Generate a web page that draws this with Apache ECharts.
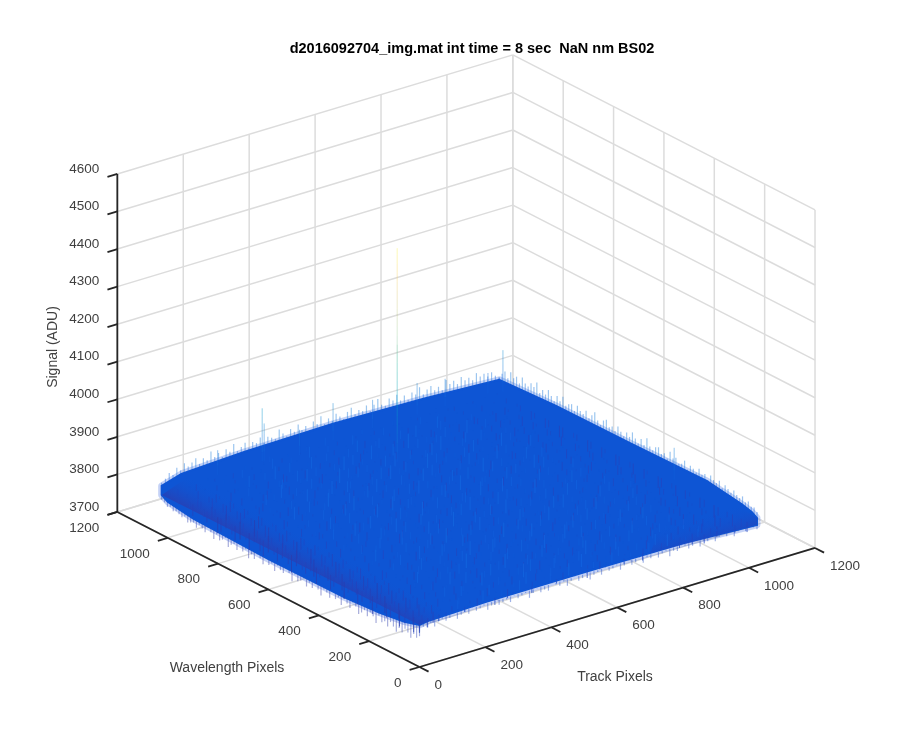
<!DOCTYPE html>
<html><head><meta charset="utf-8">
<script src="https://cdn.jsdelivr.net/npm/echarts@6/dist/echarts.min.js"></script>
<style>html,body{margin:0;background:#fff}#c{width:900px;height:750px}</style></head>
<body><div id="c"></div>
<script>
const titleText = 'd2016092704_img.mat int time = 8 sec  NaN nm BS02';
const trackTicks = [0,200,400,600,800,1000,1200];
const wavelengthTicks = [0,200,400,600,800,1000,1200];
const signalTicks = [3700,3800,3900,4000,4100,4200,4300,4400,4500,4600];
const dataExtent = 1024;
const colorValues = [3750,3785,3805,3820,3850,3900,3980,4080,4180,4260,4330,4400];
const colorStops = ['#30369f','#2444bd','#1a4cc8','#0e55d4','#1366e0','#1481d6','#06a4ca','#2eb7a4','#87bf77','#d1bb59','#fec832','#f9fb0e'];
const surfaceOutline = [[0,1024,3830],[60,1024,3846],[250,1024,3854],[520,1024,3858],[800,1024,3852],[1024,1024,3842],[1024,800,3850],[1024,500,3852],[1024,200,3856],[1024,60,3842],[1024,20,3835],[1024,0,3826],[1024,0,3808],[800,0,3818],[500,0,3820],[200,0,3820],[30,0,3816],[0,0,3812],[0,60,3800],[0,160,3790],[0,300,3783],[0,600,3781],[0,900,3786],[0,1000,3796],[0,1024,3806]];
const spikes = [[561,823,4384],[305,1024,3956],[311,1024,3914],[520,1024,3913],[775,1024,3899],[1024,1009,3926],[990,1024,3869],[1024,329,3900],[400,1000,3882],[640,1024,3890],[860,1024,3888],[170,1024,3880]];
const edgeBackLeft = [3838,3846,3858,3850,3866,3856,3872,3860,3868,3876,3858,3870,3862,3882,3864,3872,3858,3876,3866,3884,3862,3870,3878,3860,3874,3868,3880,3862,3876,3870,3864,3886,3872,3862,3878,3868,3884,3866,3874,3860,3880,3870,3888,3864,3876,3866,3882,3872,3862,3878,3886,3866,3874,3868,3880,3862,3876,3888,3870,3864,3880,3872,3884,3866,3876,3862,3878,3870,3886,3864,3874,3880,3866,3872,3860,3884,3870,3876,3864,3880,3868,3872,3862,3878,3866,3870,3860,3868,3856,3848];
const edgeBackRight = [3848,3862,3872,3858,3878,3866,3874,3860,3880,3868,3864,3876,3870,3886,3862,3874,3866,3882,3870,3860,3878,3868,3884,3864,3872,3876,3862,3880,3870,3866,3878,3862,3874,3886,3868,3860,3876,3882,3866,3872,3864,3880,3870,3862,3876,3868,3884,3872,3862,3878,3866,3888,3870,3864,3876,3880,3866,3872,3862,3884,3870,3876,3864,3868,3880,3860,3874,3870,3864,3878,3866,3872,3860,3876,3868,3864,3874,3858,3870,3864,3858,3868,3860,3856,3864,3852,3858,3848,3850,3842];
const edgeFrontRight = [3796,3804,3810,3800,3812,3806,3796,3810,3802,3814,3806,3798,3812,3804,3808,3796,3816,3804,3800,3810,3814,3802,3806,3794,3812,3808,3800,3816,3804,3810,3798,3814,3806,3802,3816,3806,3798,3812,3808,3804,3816,3800,3810,3806,3796,3814,3806,3802,3816,3808,3798,3812,3804,3810,3816,3800,3806,3802,3814,3806,3796,3812,3808,3804,3816,3800,3810,3806,3802,3814,3806,3798,3812,3808,3804,3816,3802,3810,3806,3798,3814,3806,3802,3810,3806,3796,3808,3800,3804,3794];
const edgeFrontLeft = [3782,3774,3780,3766,3776,3782,3768,3776,3762,3772,3780,3764,3774,3768,3782,3758,3772,3778,3764,3776,3766,3758,3774,3780,3762,3770,3778,3758,3774,3766,3782,3762,3772,3776,3756,3768,3780,3764,3774,3760,3778,3768,3762,3776,3754,3772,3780,3764,3768,3776,3758,3774,3766,3782,3760,3772,3778,3762,3770,3756,3776,3766,3780,3762,3774,3768,3758,3778,3770,3764,3776,3760,3774,3782,3766,3772,3778,3766,3776,3772,3768,3780,3774,3778,3782,3778,3786,3782,3790,3794];
const matrixTrack = [12,37,71,93,128,149,183,205,241,262,297,316,353,372,409,428,465,484,521,540,577,596,633,652,689,708,745,764,801,820,857,876,913,932,969,1006];
const matrixWavelength = [16,39,74,95,131,147,186,203,244,261,299,315,356,369,412,425,468,481,524,537,580,593,636,649,692,705,748,761,804,817,860,873,916,929,972,1008];
const signalMatrix = [
[3782,3790,3798,3806,3838,3802,3826,3844,3796,3830,3810,3842,3798,3824,3836,3804,3848,3812,3794,3832,3820,3842,3802,3828,3796,3838,3814,3846,3800,3826,3836,3792,3820,3810,3796,3788],
[3776,3794,3786,3812,3800,3832,3808,3796,3842,3818,3792,3828,3846,3804,3816,3838,3798,3830,3850,3806,3794,3824,3840,3812,3834,3800,3844,3796,3822,3806,3788,3830,3798,3786,3812,3794],
[3788,3778,3800,3792,3824,3810,3842,3820,3802,3794,3836,3806,3824,3852,3796,3822,3842,3808,3816,3840,3830,3798,3812,3848,3804,3826,3792,3836,3818,3796,3842,3804,3790,3816,3792,3784],
[3772,3796,3784,3804,3794,3840,3798,3830,3812,3850,3800,3822,3794,3834,3846,3804,3814,3838,3796,3826,3852,3808,3832,3794,3820,3844,3810,3800,3838,3828,3794,3818,3806,3796,3786,3800],
[3784,3774,3792,3786,3816,3802,3826,3794,3844,3808,3832,3846,3814,3798,3824,3840,3792,3818,3834,3802,3812,3846,3796,3836,3816,3802,3848,3824,3792,3810,3838,3800,3820,3788,3808,3792],
[3778,3792,3776,3808,3796,3830,3812,3848,3800,3824,3796,3816,3838,3852,3806,3790,3830,3846,3808,3824,3794,3834,3820,3804,3842,3796,3826,3814,3840,3800,3822,3796,3786,3812,3798,3782],
[3790,3770,3798,3788,3826,3804,3792,3836,3818,3842,3806,3790,3828,3810,3844,3826,3802,3796,3850,3816,3838,3800,3844,3826,3792,3812,3836,3806,3830,3846,3794,3816,3804,3792,3810,3796],
[3768,3788,3780,3802,3790,3844,3820,3800,3834,3796,3854,3824,3804,3838,3794,3816,3846,3830,3806,3792,3828,3852,3810,3796,3840,3822,3802,3848,3798,3818,3836,3808,3794,3824,3800,3788],
[3786,3776,3794,3784,3812,3798,3836,3816,3792,3826,3810,3842,3796,3822,3848,3804,3826,3812,3840,3798,3818,3806,3836,3848,3814,3794,3830,3820,3804,3842,3796,3826,3812,3798,3788,3804],
[3774,3790,3772,3804,3822,3810,3794,3846,3804,3838,3794,3818,3852,3800,3830,3842,3792,3824,3808,3850,3796,3828,3816,3800,3834,3846,3806,3790,3824,3814,3838,3802,3820,3794,3810,3792],
[3792,3780,3788,3796,3800,3834,3816,3802,3828,3814,3846,3798,3826,3808,3796,3836,3818,3854,3800,3832,3812,3844,3792,3822,3806,3838,3818,3848,3796,3830,3804,3842,3790,3816,3800,3786],
[3770,3784,3778,3810,3790,3818,3842,3796,3850,3804,3822,3836,3794,3846,3816,3804,3832,3796,3826,3842,3806,3818,3852,3800,3828,3794,3840,3812,3834,3802,3822,3796,3814,3806,3794,3802],
[3788,3772,3796,3786,3828,3806,3794,3830,3812,3792,3838,3810,3854,3822,3800,3842,3814,3828,3794,3808,3846,3796,3824,3836,3810,3850,3802,3826,3792,3844,3816,3804,3832,3792,3812,3790],
[3776,3792,3782,3800,3794,3846,3826,3808,3840,3824,3798,3846,3804,3816,3836,3794,3850,3806,3834,3820,3798,3840,3810,3794,3846,3816,3830,3804,3822,3798,3840,3812,3800,3822,3798,3784],
[3794,3778,3790,3808,3816,3798,3834,3792,3822,3850,3808,3828,3792,3842,3812,3826,3800,3844,3816,3792,3852,3826,3804,3838,3820,3796,3812,3846,3808,3828,3794,3836,3816,3804,3792,3806],
[3772,3786,3774,3792,3804,3838,3812,3844,3796,3816,3834,3802,3848,3824,3796,3854,3818,3792,3832,3844,3810,3800,3836,3814,3828,3842,3798,3822,3840,3802,3818,3808,3794,3826,3802,3790],
[3784,3770,3796,3782,3830,3808,3796,3826,3846,3806,3790,3842,3818,3800,3836,3810,3828,3846,3804,3822,3794,3848,3822,3796,3806,3852,3816,3794,3830,3846,3806,3824,3800,3812,3796,3786],
[3790,3780,3784,3802,3792,3822,3840,3800,3816,3832,3852,3796,3824,3844,3808,3790,3838,3814,3850,3798,3832,3812,3842,3806,3826,3794,3836,3818,3802,3812,3838,3796,3818,3804,3790,3800],
[3768,3792,3776,3806,3818,3800,3828,3848,3792,3820,3806,3836,3802,3816,3852,3828,3804,3794,3824,3842,3810,3796,3826,3850,3812,3834,3800,3846,3822,3796,3828,3810,3794,3822,3806,3792],
[3786,3774,3798,3788,3796,3842,3810,3794,3836,3848,3814,3796,3846,3830,3792,3812,3844,3820,3800,3836,3818,3852,3798,3816,3840,3804,3824,3792,3836,3816,3800,3840,3806,3792,3812,3786],
[3778,3788,3770,3800,3826,3804,3834,3816,3802,3790,3826,3850,3808,3798,3840,3822,3806,3832,3848,3794,3826,3808,3838,3796,3820,3846,3810,3828,3804,3844,3814,3792,3820,3802,3794,3804],
[3792,3776,3790,3784,3810,3796,3846,3824,3842,3810,3798,3834,3820,3852,3806,3836,3796,3814,3842,3804,3854,3796,3816,3832,3804,3792,3840,3816,3850,3798,3826,3808,3796,3814,3798,3788],
[3774,3794,3780,3808,3794,3832,3802,3790,3820,3846,3816,3804,3794,3828,3846,3800,3824,3850,3796,3820,3836,3812,3846,3800,3826,3842,3806,3794,3830,3818,3840,3802,3816,3790,3808,3796],
[3782,3772,3792,3786,3820,3806,3816,3840,3796,3828,3854,3810,3838,3806,3792,3818,3842,3804,3834,3810,3794,3844,3822,3808,3852,3796,3836,3820,3802,3846,3794,3824,3806,3820,3796,3784],
[3770,3786,3778,3798,3802,3848,3826,3808,3834,3800,3792,3842,3820,3846,3812,3834,3798,3826,3808,3848,3826,3796,3804,3838,3816,3828,3792,3850,3812,3800,3832,3814,3792,3804,3812,3798],
[3794,3780,3784,3806,3790,3818,3798,3844,3812,3852,3822,3796,3806,3828,3850,3794,3816,3840,3792,3814,3844,3830,3810,3796,3846,3806,3826,3816,3838,3794,3818,3844,3800,3816,3790,3802],
[3776,3790,3772,3794,3812,3800,3836,3794,3826,3806,3838,3818,3844,3794,3822,3836,3804,3852,3826,3800,3806,3854,3792,3832,3812,3840,3798,3828,3806,3850,3804,3812,3826,3796,3804,3788],
[3788,3768,3796,3782,3828,3810,3792,3820,3848,3798,3816,3850,3802,3834,3810,3796,3846,3812,3830,3842,3796,3818,3840,3804,3826,3794,3846,3810,3824,3798,3836,3806,3790,3818,3798,3784],
[3780,3792,3786,3804,3796,3842,3816,3804,3836,3824,3794,3830,3812,3854,3826,3842,3800,3820,3794,3850,3816,3806,3834,3848,3800,3820,3836,3792,3844,3812,3804,3830,3810,3798,3808,3796],
[3772,3778,3794,3790,3806,3794,3830,3850,3802,3812,3842,3806,3824,3796,3840,3816,3834,3806,3844,3824,3792,3838,3810,3826,3852,3802,3818,3842,3800,3826,3796,3818,3792,3812,3796,3790],
[3786,3796,3776,3802,3824,3808,3798,3822,3840,3794,3828,3848,3800,3818,3806,3852,3796,3830,3812,3798,3846,3820,3802,3840,3794,3836,3814,3804,3850,3816,3838,3800,3822,3804,3790,3800],
[3796,3782,3792,3788,3796,3836,3814,3792,3832,3808,3844,3816,3838,3790,3832,3814,3842,3800,3852,3826,3808,3796,3854,3816,3830,3806,3842,3822,3796,3828,3806,3812,3796,3820,3804,3792],
[3784,3798,3788,3808,3792,3820,3846,3806,3796,3850,3800,3824,3794,3846,3822,3804,3826,3838,3794,3814,3842,3804,3824,3796,3846,3812,3800,3838,3818,3794,3832,3800,3814,3792,3808,3800],
[3802,3792,3800,3794,3816,3804,3826,3812,3834,3816,3794,3840,3810,3826,3800,3836,3796,3820,3846,3804,3830,3816,3800,3838,3812,3828,3796,3846,3806,3824,3812,3796,3820,3806,3796,3808],
[3796,3808,3794,3812,3802,3826,3806,3836,3800,3822,3842,3804,3830,3816,3844,3810,3832,3802,3818,3840,3796,3824,3836,3808,3820,3800,3834,3814,3828,3802,3816,3806,3824,3800,3812,3802],
[3806,3800,3812,3798,3820,3808,3814,3802,3826,3810,3818,3830,3804,3822,3812,3826,3816,3836,3806,3820,3810,3828,3804,3818,3826,3812,3820,3808,3816,3824,3810,3804,3814,3808,3816,3812]
];
const planeSignal = 3815;

function project(t,w,z){return [419.5+0.3296*t-0.2518*w, 667-0.0992*t-0.1292*w-(z-3700)*0.3756];}
function hexRgb(h){return [1,3,5].map(i=>parseInt(h.substr(i,2),16));}
function signalColor(z){
  if(z<=colorValues[0])return colorStops[0];
  for(let i=1;i<colorValues.length;i++){
    if(z<=colorValues[i]){
      const f=(z-colorValues[i-1])/(colorValues[i]-colorValues[i-1]);
      const a=hexRgb(colorStops[i-1]),b=hexRgb(colorStops[i]);
      return 'rgb('+a.map((v,k)=>Math.round(v+(b[k]-v)*f)).join(',')+')';
    }
  }
  return colorStops[colorStops.length-1];
}
function seg(api,a,b,stroke,lineWidth,opacity){
  const p=api.coord(project(a[0],a[1],a[2])),q=api.coord(project(b[0],b[1],b[2]));
  return {type:'line',shape:{x1:p[0],y1:p[1],x2:q[0],y2:q[1]},style:{stroke,lineWidth,opacity,fill:null}};
}
function layer(items,render,z){
  return {type:'custom',coordinateSystem:'cartesian2d',silent:true,animation:false,clip:false,progressive:0,z,
    data:items.map((d,i)=>[i]),encode:{x:0,y:0},
    renderItem:(params,api)=>render(items[params.dataIndex],api)};
}
const T0=trackTicks[0],T1=trackTicks[trackTicks.length-1],W0=wavelengthTicks[0],W1=wavelengthTicks[wavelengthTicks.length-1],Z0=signalTicks[0],Z1=signalTicks[signalTicks.length-1];

const gridLines=[];
trackTicks.forEach(t=>{gridLines.push([[t,W0,Z0],[t,W1,Z0]]);gridLines.push([[t,W1,Z0],[t,W1,Z1]]);});
wavelengthTicks.forEach(w=>{gridLines.push([[T0,w,Z0],[T1,w,Z0]]);gridLines.push([[T1,w,Z0],[T1,w,Z1]]);});
signalTicks.forEach(z=>{gridLines.push([[T0,W1,z],[T1,W1,z]]);gridLines.push([[T1,W1,z],[T1,W0,z]]);});

const axisLines=[[[T0,W0,Z0],[T1,W0,Z0]],[[T0,W0,Z0],[T0,W1,Z0]],[[T0,W1,Z0],[T0,W1,Z1]]];
const tickT=30,tickW=36;
wavelengthTicks.forEach(w=>axisLines.push([[T0,w,Z0],[T0-tickT,w,Z0]]));
trackTicks.forEach(t=>axisLines.push([[t,W0,Z0],[t,W0-tickW,Z0]]));
signalTicks.forEach(z=>axisLines.push([[T0,W1,z],[T0-tickT,W1,z]]));

const edgeItems=[];
edgeBackLeft.forEach((v,i)=>edgeItems.push([dataExtent*i/(edgeBackLeft.length-1),dataExtent,v]));
edgeBackRight.forEach((v,i)=>edgeItems.push([dataExtent,dataExtent*(1-i/(edgeBackRight.length-1)),v]));
edgeFrontRight.forEach((v,i)=>edgeItems.push([dataExtent*(1-i/(edgeFrontRight.length-1)),0,v]));
edgeFrontLeft.forEach((v,i)=>edgeItems.push([0,dataExtent*i/(edgeFrontLeft.length-1),v]));

const streaks=[];
signalMatrix.forEach((row,j)=>row.forEach((v,i)=>streaks.push([matrixTrack[i],matrixWavelength[j],v])));
streaks.sort((a,b)=>(b[0]+b[1])-(a[0]+a[1]));

const spikePieces=[];
spikes.forEach(s=>{for(let z=planeSignal;z<s[2];z+=24){spikePieces.push([s[0],s[1],z,Math.min(z+24,s[2])]);}});

const textFont='13.5px "Liberation Sans", Arial, sans-serif';
const nameFont='14px "Liberation Sans", Arial, sans-serif';
const textColor='#404040';
function label(api,pt,dx,dy,text,align,rot,font){
  const p=api.coord(pt);
  return {type:'text',x:p[0]+dx,y:p[1]+dy,rotation:rot||0,style:{text,font:font||textFont,fill:textColor,align,verticalAlign:'middle'}};
}
const labels=[];
signalTicks.forEach(z=>labels.push({k:'z',v:z}));
wavelengthTicks.forEach(w=>labels.push({k:'w',v:w}));
trackTicks.forEach(t=>labels.push({k:'t',v:t}));
labels.push({k:'n',text:'Signal (ADU)',pt:[53,347],rot:Math.PI/2,align:'center'});
labels.push({k:'n',text:'Wavelength Pixels',pt:[227,668],align:'center'});
labels.push({k:'n',text:'Track Pixels',pt:[615,677],align:'center'});

function bandFill(api,a,b,len,dark){
  const p=api.coord(project(a[0],a[1],a[2])),q=api.coord(project(b[0],b[1],b[2]));
  const dx=q[0]-p[0],dy=q[1]-p[1],n=Math.hypot(dx,dy),nx=dy/n,ny=-dx/n;
  const s=ny<0?1:-1;
  return {type:'linear',global:true,x:p[0],y:p[1],x2:p[0]+s*nx*len,y2:p[1]+s*ny*len,colorStops:[{offset:0,color:dark},{offset:1,color:'rgba(14,85,212,0)'}]};
}
const bandEdges=[
 {a:[0,0,3790],b:[0,1024,3790],len:34,dark:'#2c3cae',poly:[[0,1024,3806],[0,0,3812],[120,0,3820],[120,1024,3846]]},
 {a:[700,0,3806],b:[1024,0,3806],len:26,dark:'rgba(40,62,180,0.5)',poly:[[1024,0,3808],[700,0,3818],[1024,300,3848],[1024,0,3826]]}
];

const option={
  animation:false,
  backgroundColor:'#fff',
  title:{text:titleText,left:467,top:36,textAlign:'center',textStyle:{fontFamily:'"Liberation Sans", Arial, sans-serif',fontSize:14.5,fontWeight:'bold',color:'#000'}},
  grid:{left:0,right:0,top:0,bottom:0},
  xAxis:{type:'value',min:0,max:900,show:false},
  yAxis:{type:'value',min:0,max:750,inverse:true,show:false},
  series:[
    layer(gridLines,(d,api)=>seg(api,d[0],d[1],'#dcdcdc',1.5,1),1),
    layer([surfaceOutline],(d,api)=>({type:'polygon',shape:{points:d.map(p=>api.coord(project(p[0],p[1],p[2])))},style:{fill:'none',stroke:'#3f6ae0',lineWidth:7,opacity:0.3,lineJoin:'round'}}),2),
    layer(edgeItems,(d,api)=>seg(api,[d[0],d[1],planeSignal],d,signalColor(d[2]),1.2,0.42),2),
    layer([surfaceOutline],(d,api)=>({type:'polygon',shape:{points:d.map(p=>api.coord(project(p[0],p[1],p[2])))},style:{fill:'#0e55d4',stroke:'#0e55d4',lineWidth:2}}),3),
    layer(bandEdges,(d,api)=>({type:'polygon',shape:{points:d.poly.map(p=>api.coord(project(p[0],p[1],p[2])))},style:{fill:bandFill(api,d.a,d.b,d.len,d.dark)}}),4),
    layer(streaks,(d,api)=>seg(api,[d[0],d[1],planeSignal],d,signalColor(d[2]),1,0.75),5),
    layer(spikePieces,(d,api)=>seg(api,[d[0],d[1],d[2]],[d[0],d[1],d[3]],signalColor(d[3]),1,d[3]>4150?0.3:0.45),6),
    layer(axisLines,(d,api)=>seg(api,d[0],d[1],'#262626',1.8,1),7),
    layer(labels,(d,api)=>{
      if(d.k==='z')return label(api,project(T0,W1,d.v),-18,-5,String(d.v),'right');
      if(d.k==='w')return label(api,project(T0,d.v,Z0),-18,16,String(d.v),'right');
      if(d.k==='t')return label(api,project(d.v,W0,Z0),15,18,String(d.v),'left');
      return label(api,d.pt,0,0,d.text,d.align,d.rot,nameFont);
    },8)
  ]
};
echarts.init(document.getElementById('c'),null,{renderer:'canvas'}).setOption(option);
</script></body></html>
